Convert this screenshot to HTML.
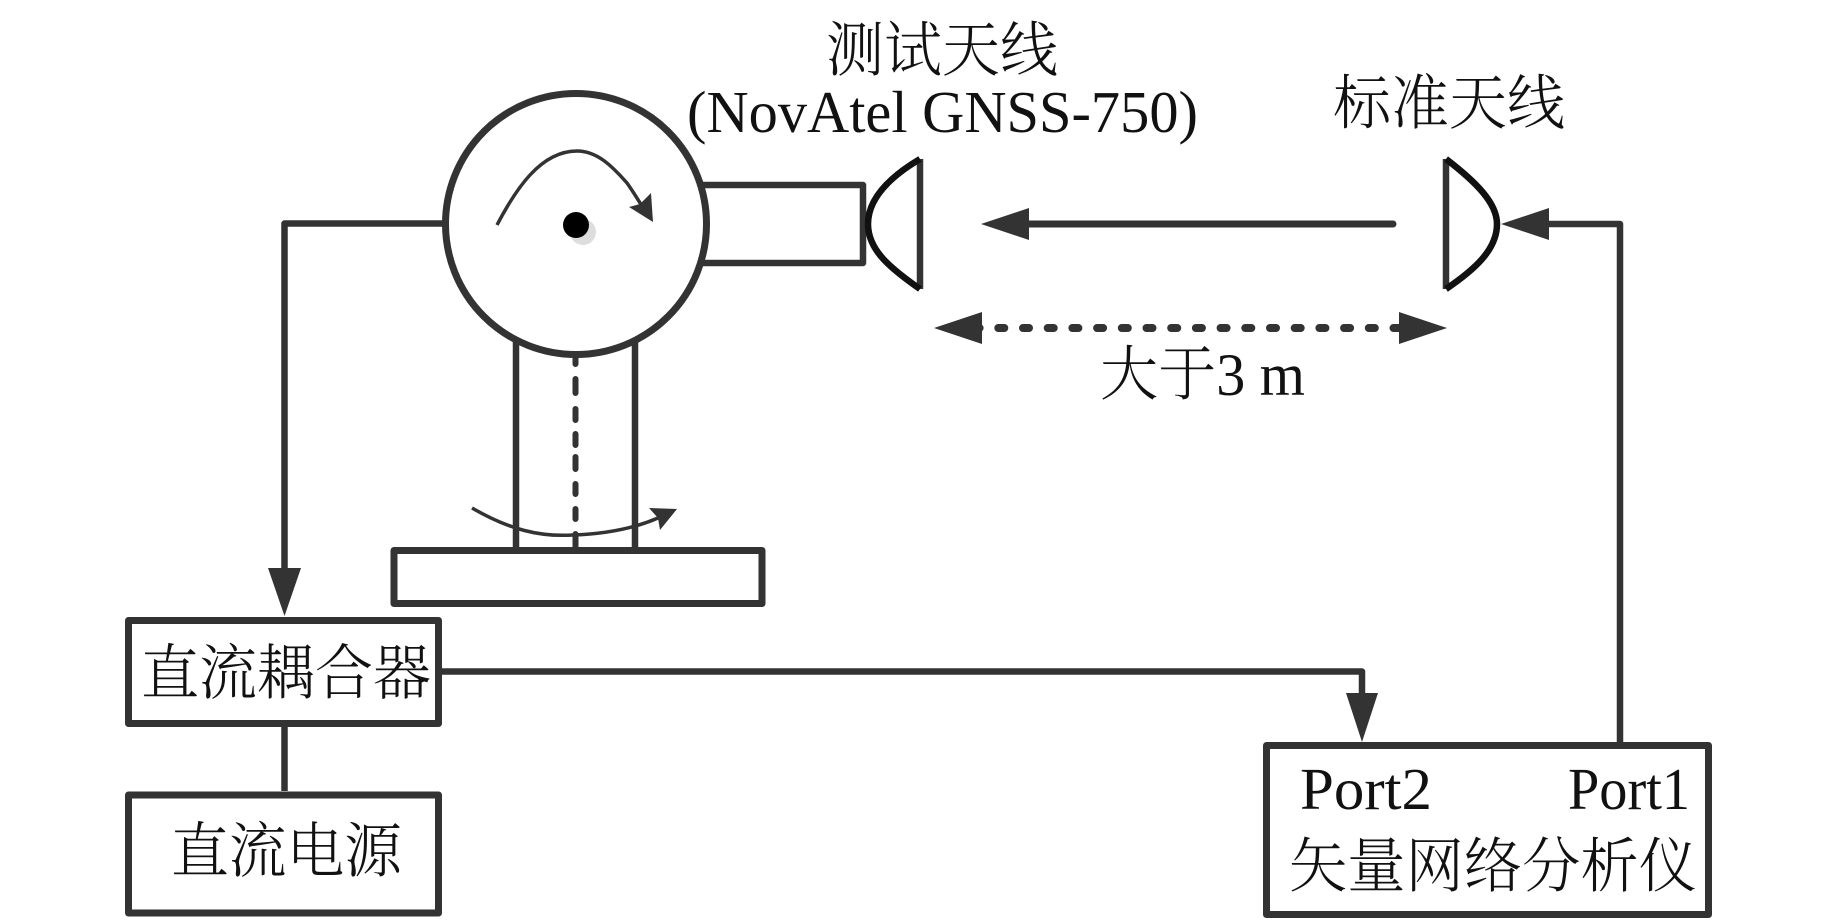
<!DOCTYPE html>
<html lang="zh">
<head>
<meta charset="utf-8">
<style>
html,body{margin:0;padding:0;background:#fff;width:1843px;height:921px;overflow:hidden}
svg{display:block}
.cjk{font-family:"Liberation Serif","Noto Serif CJK SC",serif;font-size:60px;fill:#111;font-weight:300}
.lat{font-family:"Liberation Serif",serif;font-size:59px;fill:#111}
</style>
</head>
<body>
<svg width="1843" height="921" viewBox="0 0 1843 921" xmlns="http://www.w3.org/2000/svg">
<g fill="none" stroke="#333" stroke-width="6.5" stroke-linejoin="round">
  <!-- column -->
  <path d="M516 340V550M635 340V550" stroke-width="6.500"/>
  <!-- center axis dashes -->
  <path d="M575.500 355V364M575.500 379V393M575.500 409V420M575.500 434V445M575.500 457V469M575.500 484V494M575.500 509V519M575.500 534V547" stroke-width="6" stroke-linecap="round"/>
  <!-- base -->
  <rect x="394" y="550.500" width="368" height="53" stroke-width="7"/>
  <!-- arm -->
  <path d="M702 185H863V263H702" />
  <!-- circle -->
  <circle cx="576" cy="224" r="130.500" fill="#fff" stroke-width="7"/>
  <!-- feed lines -->
  <path d="M445 223.500H284.500V570"/>
  <path d="M442 671.500H1362V695"/>
  <path d="M284.500 726V791"/>
  <path d="M1620 743V224H1545"/>
  <path d="M1027 224H1393" stroke-width="7" stroke-linecap="round"/>
  <path d="M973.600 328H1399" stroke-width="8" stroke-dasharray="6 18.700" stroke-linecap="round"/>
  <!-- boxes -->
  <rect x="128.500" y="620.500" width="310" height="103" stroke-width="7"/>
  <rect x="128.500" y="795" width="310" height="118" stroke-width="7"/>
  <rect x="1266.500" y="745.500" width="442" height="169" stroke-width="7"/>
  <!-- antennas -->
  <path d="M920 159V289"/>
  <path d="M920 159C888 178 868 200 868 224C868 250 890 268 920 289" stroke="#111"/>
  <path d="M1446 159V289"/>
  <path d="M1446 159C1476 182 1497 203 1497 224C1497 250 1474 270 1446 289" stroke="#111"/>
  <!-- rotation arcs -->
  <path d="M497 225C508 204 518 188 530 175C542 162 558 151 577 151C597 151 612 166 627 183C632 190 637 198 642 206" stroke-width="3.500"/>
  <path d="M472 508C510 530 540 537 573 535C605 534 635 528 658 518" stroke-width="3.500"/>
</g>
<g fill="#333">
  <circle cx="583" cy="232" r="13" fill="#ddd"/>
  <circle cx="576" cy="225" r="13" fill="#000"/>
  <path d="M653 222L651 193L640 204L629 207Z"/>
  <path d="M677 509L649 508L658 518L660 530Z"/>
  <path d="M284.500 616L268 568H301Z"/>
  <path d="M1362 742L1346 693H1378Z"/>
  <path d="M981 224L1029 208V240Z"/>
  <path d="M1501 224L1549 208V240Z"/>
  <path d="M934 328L982 312V344Z"/>
  <path d="M1447 328L1399 312V344Z"/>
</g>
<text class="cjk" x="826" y="71" textLength="232" lengthAdjust="spacingAndGlyphs">测试天线</text>
<text class="lat" x="687" y="132" textLength="511" lengthAdjust="spacingAndGlyphs">(NovAtel GNSS-750)</text>
<text class="cjk" x="1333" y="124" textLength="232" lengthAdjust="spacingAndGlyphs">标准天线</text>
<text class="cjk" x="1100" y="395" textLength="205" lengthAdjust="spacingAndGlyphs">大于3 m</text>
<text class="cjk" x="141" y="694" textLength="290" lengthAdjust="spacingAndGlyphs">直流耦合器</text>
<text class="cjk" x="171" y="872" textLength="231" lengthAdjust="spacingAndGlyphs">直流电源</text>
<text class="lat" x="1300" y="809" textLength="132" lengthAdjust="spacingAndGlyphs">Port2</text>
<text class="lat" x="1568" y="809" textLength="122" lengthAdjust="spacingAndGlyphs">Port1</text>
<text class="cjk" x="1289" y="887" textLength="408" lengthAdjust="spacingAndGlyphs">矢量网络分析仪</text>
</svg>
</body>
</html>
